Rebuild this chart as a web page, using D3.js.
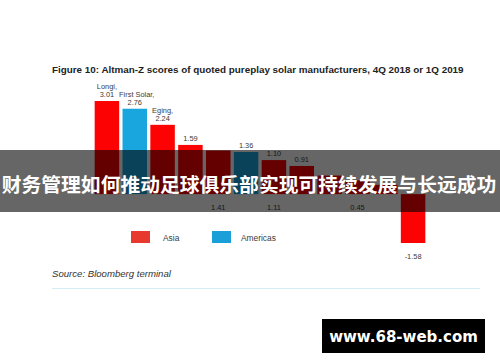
<!DOCTYPE html>
<html>
<head>
<meta charset="utf-8">
<script src="https://cdn.jsdelivr.net/npm/d3@7"></script>
<style>
  body { margin: 0; background: #fff; }
  svg { display: block; font-family: "Liberation Sans", Arial, sans-serif; }
</style>
</head>
<body>
<svg id="chart" width="500" height="362"></svg>
<script>
// bar data, left to right
const names = ["Longi", "First Solar", "Eging", "", "", "", "", "", "", "", "", ""];
const values = [3.01, 2.76, 2.24, 1.59, 1.41, 1.36, 1.10, 0.91, 0.60, 0.45, 0.30, -1.58];
const regions = ["Asia", "Americas", "Asia", "Asia", "Asia", "Americas", "Asia", "Asia", "Asia", "Asia", "Asia", "Asia"];
const topLabels = ["3.01", "2.76", "2.24", "1.59", "", "1.36", "1.10", "0.91", "", "", "", ""];
const bottomLabels = ["", "", "", "", "1.41", "", "1.11", "", "", "0.45", "", "-1.58"];
const legendItems = ["Asia", "Americas"];

const svg = d3.select("#chart");

const x = d3.scaleBand()
  .domain(d3.range(values.length))
  .range([93, 427])
  .paddingInner(0.12)
  .paddingOuter(0.06);

const y = d3.scaleLinear()
  .domain([d3.min(values), d3.max(values)])
  .range([243, 101]);

const barColor = d3.scaleOrdinal().domain(legendItems).range(["#fd0202", "#19a6de"]);
const swatchColor = d3.scaleOrdinal().domain(legendItems).range(["#e8392e", "#1b9fd9"]);

// title
svg.append("text")
  .attr("x", 52).attr("y", 73)
  .attr("font-size", 9.85).attr("font-weight", "bold").attr("fill", "#222")
  .text("Figure 10: Altman-Z scores of quoted pureplay solar manufacturers, 4Q 2018 or 1Q 2019");

// bars
svg.append("g").selectAll("rect")
  .data(values)
  .join("rect")
  .attr("x", (d, i) => x(i))
  .attr("width", x.bandwidth())
  .attr("y", d => y(Math.max(0, d)))
  .attr("height", d => Math.abs(y(d) - y(0)))
  .attr("fill", (d, i) => barColor(regions[i]));

// labels above / below bars
const labels = svg.append("g")
  .attr("font-size", 7.4).attr("text-anchor", "middle");

values.forEach((v, i) => {
  const cx = x(i) + x.bandwidth() / 2;
  if (topLabels[i]) {
    labels.append("text").attr("x", cx).attr("y", y(v) - 4)
      .attr("fill", "#3a3a3a").text(topLabels[i]);
  }
  if (names[i]) {
    labels.append("text").attr("x", cx + (i === 1 ? 2 : 0)).attr("y", y(v) - 12)
      .attr("fill", "#3a3a3a").text(names[i] + ",");
  }
  if (bottomLabels[i]) {
    const base = v < 0 ? y(v) : y(0);
    labels.append("text").attr("x", cx).attr("y", base + 16)
      .attr("fill", "#3a3a3a").text(bottomLabels[i]);
  }
});

// legend
const legend = svg.append("g");
const legendX = [131, 212];
legendItems.forEach((k, i) => {
  legend.append("rect")
    .attr("x", legendX[i]).attr("y", 231)
    .attr("width", 19).attr("height", 12)
    .attr("fill", swatchColor(k));
  legend.append("text")
    .attr("x", legendX[i] + (i === 0 ? 32 : 29)).attr("y", 241)
    .attr("font-size", 8.4).attr("fill", "#3a3a3a")
    .text(k);
});

// source
svg.append("text")
  .attr("x", 52).attr("y", 277)
  .attr("font-size", 9.6).attr("font-style", "italic").attr("fill", "#333")
  .text("Source: Bloomberg terminal");

svg.append("line")
  .attr("x1", 52).attr("x2", 480)
  .attr("y1", 288.5).attr("y2", 288.5)
  .attr("stroke", "#d3eef4").attr("stroke-width", 1);

// dark banner with headline
svg.append("rect")
  .attr("x", 0).attr("y", 150)
  .attr("width", 500).attr("height", 62)
  .attr("fill", "#000").attr("fill-opacity", 0.6);

svg.append("text")
  .attr("x", 249).attr("y", 183)
  .attr("text-anchor", "middle").attr("dominant-baseline", "central")
  .attr("font-family", "'Noto Sans CJK SC', sans-serif")
  .attr("font-size", 19.8).attr("font-weight", "bold").attr("fill", "#fff")
  .text("财务管理如何推动足球俱乐部实现可持续发展与长远成功");

// watermark
svg.append("rect")
  .attr("x", 322).attr("y", 319)
  .attr("width", 163).attr("height", 34)
  .attr("fill", "#000");

svg.append("text")
  .attr("x", 403.5).attr("y", 342)
  .attr("text-anchor", "middle")
  .attr("font-family", "'DejaVu Sans', sans-serif")
  .attr("font-size", 15).attr("font-weight", "bold").attr("fill", "#fff")
  .text("www.68-web.com");
</script>
</body>
</html>
